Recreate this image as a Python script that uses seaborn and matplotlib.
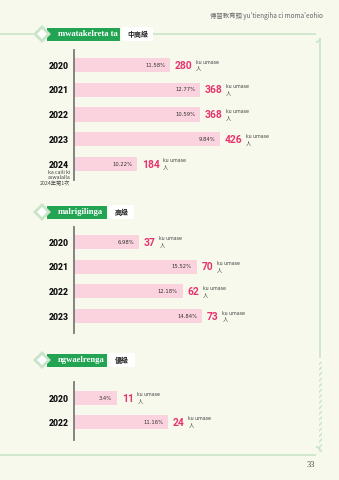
import matplotlib
matplotlib.use("Agg")
import matplotlib.pyplot as plt
import matplotlib.patches as mpatches
import seaborn as sns
import pandas as pd
import numpy as np

# ---------------- data ----------------
sec1_title = "mwatakelreta ta"
sec1_level = "中高級"
sec1_years = ["2020", "2021", "2022", "2023", "2024"]
sec1_counts = [280, 368, 368, 426, 184]
sec1_pcts = ["11.58%", "12.77%", "10.59%", "9.84%", "10.22%"]

sec2_title = "malrigilinga"
sec2_level = "高級"
sec2_years = ["2020", "2021", "2022", "2023"]
sec2_counts = [37, 70, 62, 73]
sec2_pcts = ["6.98%", "15.52%", "12.18%", "14.84%"]

sec3_title = "ngwaelrenga"
sec3_level = "優級"
sec3_years = ["2020", "2022"]
sec3_counts = [11, 24]
sec3_pcts = ["3.4%", "11.16%"]

unit_top = "ku umase"
unit_bottom = "人"
note_2024 = ["ka caili ki", "aswalalla", "2024年第1次"]
header = "傳習教育頭 yu'tiengiha ci moma'eohio"
page_no = "33"

# ---------------- style ----------------
BG = "#f6f9ec"
BAR = "#fbd3de"
PINK = "#e8336e"
GREEN = "#22a452"
LGREEN = "#c9e4c8"
CJK = ["Noto Sans CJK TC", "DejaVu Sans"]

sns.set_theme(style="white")
plt.rcParams["font.family"] = ["DejaVu Sans", "Noto Sans CJK TC"]

W, H = 339, 480
fig = plt.figure(figsize=(W / 100, H / 100), dpi=100, facecolor=BG)

bg = fig.add_axes([0, 0, 1, 1], zorder=0)
bg.set_xlim(0, W)
bg.set_ylim(H, 0)
bg.axis("off")
bg.set_facecolor(BG)

# header & page number
bg.text(323, 16, header, ha="right", va="center", fontsize=4.6, color="#666666",
        family=["Noto Sans CJK TC", "Liberation Serif"])
bg.text(311, 465, page_no, ha="center", va="center", fontsize=6, color="#444444",
        family="Liberation Serif")

# frame
lw = 1.2
bg.plot([0, 33], [34, 34], color=LGREEN, lw=lw, solid_capstyle="butt")
bg.plot([153, 316], [34, 34], color=LGREEN, lw=lw, solid_capstyle="butt")
bg.add_patch(mpatches.Arc((316, 38), 8, 8, theta1=0, theta2=90, color=LGREEN, lw=lw))
bg.plot([320, 320], [38, 358], color=LGREEN, lw=lw, solid_capstyle="butt")
bg.add_patch(mpatches.Rectangle((318.6, 362), 3, 90, facecolor="none", edgecolor=LGREEN,
                                hatch="//////", lw=0))
bg.add_patch(mpatches.Arc((316, 451), 8, 8, theta1=270, theta2=360, color=LGREEN, lw=lw))
bg.plot([0, 316], [455, 455], color=LGREEN, lw=lw, solid_capstyle="butt")


def banner(y, title, level, green_w, white_w):
    x0 = 47
    bg.add_patch(mpatches.Rectangle((x0, y - 6.5), green_w, 13, facecolor=GREEN,
                                    edgecolor="none", zorder=3))
    bg.add_patch(mpatches.Rectangle((x0 + green_w + 2, y - 7), white_w, 14,
                                    facecolor="white", edgecolor="none", zorder=3))
    d = 9
    bg.add_patch(mpatches.Polygon([(42 - d, y), (42, y - d), (42 + d, y), (42, y + d)],
                                  closed=True, facecolor=LGREEN, edgecolor="none", zorder=4))
    d2 = 5
    bg.add_patch(mpatches.Polygon([(42 - d2, y), (42, y - d2), (42 + d2, y), (42, y + d2)],
                                  closed=True, facecolor="white", edgecolor="none", zorder=5))
    bg.text(x0 + 11, y, title, ha="left", va="center", fontsize=6.2, color="white",
            family="Liberation Serif", fontweight="bold", zorder=6)
    bg.text(x0 + green_w + 2 + white_w / 2, y, level, ha="center", va="center",
            fontsize=5.0, color="#222222", family=CJK, fontweight="bold", zorder=6)


banner(34, sec1_title, sec1_level, 73, 31)
banner(212, sec2_title, sec2_level, 60, 25)
banner(360, sec3_title, sec3_level, 60, 26)

# ---------------- bar sections ----------------
AX_X0 = 74
AX_W = 246


def section(years, counts, pcts, top, bottom, first_center, spacing, max_px, note=None):
    ax = fig.add_axes([AX_X0 / W, 1 - bottom / H, AX_W / W, (bottom - top) / H], zorder=2)
    ax.patch.set_alpha(0)
    df = pd.DataFrame({"year": years, "count": counts})
    sns.barplot(data=df, y="year", x="count", orient="h", color=BAR, width=0.57,
                saturation=1, ax=ax, edgecolor="none")
    n = len(years)
    top_pad = (first_center - top) / spacing
    bot_pad = (bottom - (first_center + spacing * (n - 1))) / spacing
    ax.set_ylim(n - 1 + bot_pad, -top_pad)
    ax.set_xlim(0, max(counts) * AX_W / max_px)
    ax.set_xlabel("")
    ax.set_ylabel("")
    ax.set_xticks([])
    for s in ["top", "right", "bottom"]:
        ax.spines[s].set_visible(False)
    ax.spines["left"].set_color("#7a7a7a")
    ax.spines["left"].set_linewidth(1.3)
    ax.tick_params(axis="y", length=0, pad=4)
    for lab in ax.get_yticklabels():
        lab.set_fontweight("black")
        lab.set_family("Roboto")
        lab.set_fontsize(6.2)
        lab.set_color("#111111")
    for i, (c, p) in enumerate(zip(counts, pcts)):
        ax.annotate(p, xy=(c, i), xytext=(-5, 0), textcoords="offset pixels",
                    ha="right", va="center", fontsize=3.8, color="#333333")
        ax.annotate(str(c), xy=(c, i), xytext=(5, -0.5), textcoords="offset pixels",
                    ha="left", va="center", fontsize=7.4, color=PINK, fontweight="bold",
                    family="Roboto")
        off = 5 + 5.7 * len(str(c)) + 4
        ax.annotate(unit_top, xy=(c, i), xytext=(off, 3), textcoords="offset pixels",
                    ha="left", va="center", fontsize=3.4, color="#444444")
        ax.annotate(unit_bottom, xy=(c, i), xytext=(off, -3), textcoords="offset pixels",
                    ha="left", va="center", fontsize=3.8, color="#444444", family=CJK)
    if note is not None:
        i = n - 1
        for k, line in enumerate(note):
            ax.annotate(line, xy=(0, i), xytext=(-4, -8 - 5.6 * k),
                        textcoords="offset pixels", ha="right", va="center",
                        fontsize=3.8, color="#444444", family=CJK, annotation_clip=False)
    return ax


section(sec1_years, sec1_counts, sec1_pcts, 50, 180, 65, 24.75, 146, note=note_2024)
section(sec2_years, sec2_counts, sec2_pcts, 227, 333, 242, 24.7, 128)
section(sec3_years, sec3_counts, sec3_pcts, 382, 440, 398, 24, 94)

fig.savefig("out.png", dpi=100, facecolor=BG)
